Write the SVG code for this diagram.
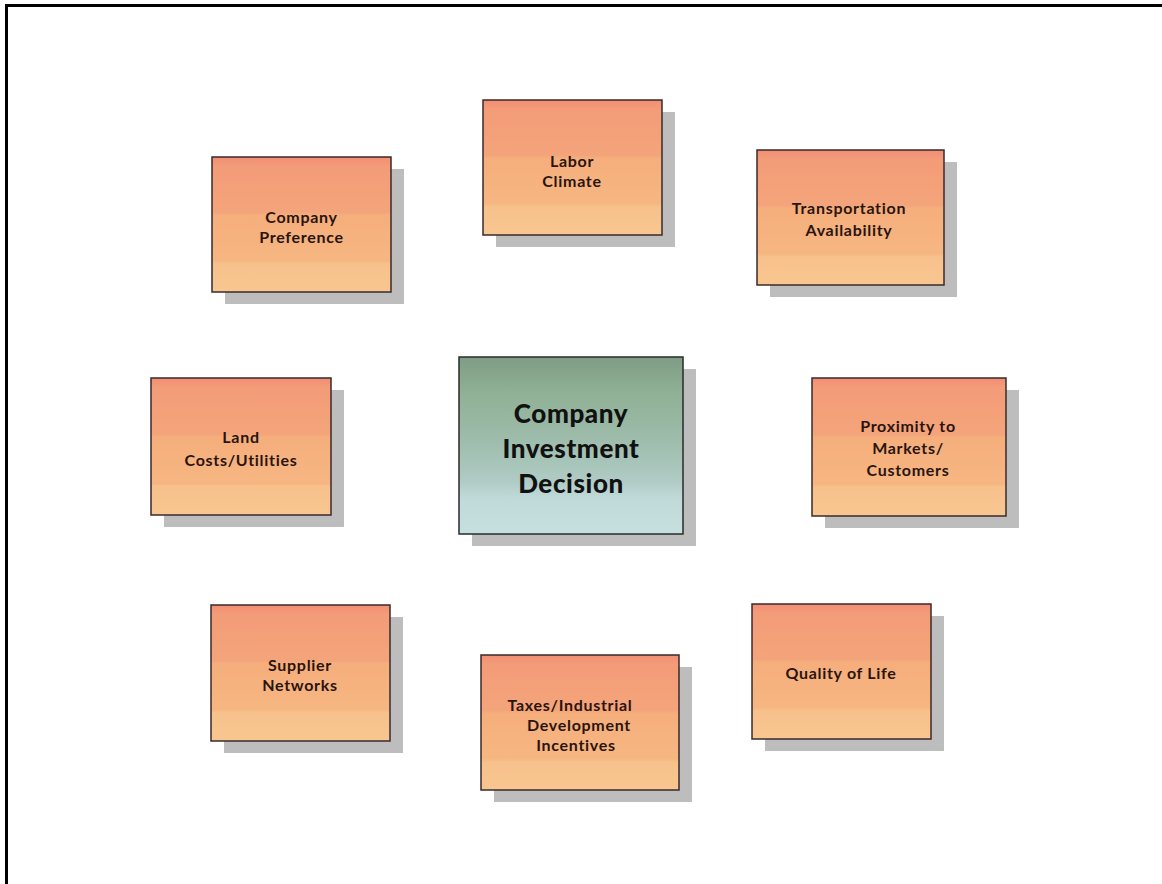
<svg xmlns="http://www.w3.org/2000/svg" width="1162" height="884" viewBox="0 0 1162 884">
<defs>
<linearGradient id="og" x1="0" y1="0" x2="0" y2="1">
<stop offset="0" stop-color="#F28E76"/>
<stop offset="0.07" stop-color="#F39C78"/>
<stop offset="0.41" stop-color="#F4A47A"/>
<stop offset="0.43" stop-color="#F5AE7C"/>
<stop offset="0.77" stop-color="#F6B682"/>
<stop offset="0.79" stop-color="#F7C18C"/>
<stop offset="1" stop-color="#F8C690"/>
</linearGradient>
<linearGradient id="gg" x1="0" y1="0" x2="0" y2="1">
<stop offset="0" stop-color="#7F9C84"/>
<stop offset="0.2" stop-color="#8FB194"/>
<stop offset="0.45" stop-color="#9DBBAA"/>
<stop offset="0.7" stop-color="#AFCBC4"/>
<stop offset="0.8" stop-color="#C0DADA"/>
<stop offset="1" stop-color="#C6DFDF"/>
</linearGradient>
</defs>
<style>
.sh{fill:#BDBDBD}
.bx{fill:url(#og);stroke:#3a2a2a;stroke-width:1.5}
.cb{fill:url(#gg);stroke:#2a2a2a;stroke-width:1.5}
.t{font-family:Lato,"Open Sans","DejaVu Sans",sans-serif;font-weight:bold;font-size:16px;letter-spacing:0.7px;fill:#2a1410;text-anchor:middle}
.ct{font-family:Lato,"Open Sans","DejaVu Sans",sans-serif;font-weight:900;font-size:26px;letter-spacing:0.6px;fill:#111;text-anchor:middle}
</style>
<rect width="1162" height="884" fill="#fff"/>
<path d="M6.5 884 V5.5 H1162" fill="none" stroke="#000" stroke-width="3"/>
<g id="connectors"/>
<g id="company-preference">
<rect class="sh" x="225" y="169" width="179" height="135"/>
<rect class="bx" x="212" y="157" width="179" height="135"/>
<text class="t" x="301.5" y="223">Company</text>
<text class="t" x="301.5" y="243">Preference</text>
</g>
<g id="labor-climate">
<rect class="sh" x="496" y="112" width="179" height="135"/>
<rect class="bx" x="483" y="100" width="179" height="135"/>
<text class="t" x="572" y="167">Labor</text>
<text class="t" x="572" y="187">Climate</text>
</g>
<g id="transportation">
<rect class="sh" x="770" y="162" width="187" height="135"/>
<rect class="bx" x="757" y="150" width="187" height="135"/>
<text class="t" x="849" y="214">Transportation</text>
<text class="t" x="849" y="236">Availability</text>
</g>
<g id="land-costs">
<rect class="sh" x="164" y="390" width="180" height="137"/>
<rect class="bx" x="151" y="378" width="180" height="137"/>
<text class="t" x="241" y="443">Land</text>
<text class="t" x="241" y="466">Costs/Utilities</text>
</g>
<g id="center">
<rect class="sh" x="472" y="369" width="224" height="177"/>
<rect class="cb" x="459" y="357" width="224" height="177"/>
<text class="ct" x="571" y="423">Company</text>
<text class="ct" x="571" y="458">Investment</text>
<text class="ct" x="571" y="493">Decision</text>
</g>
<g id="proximity">
<rect class="sh" x="825" y="390" width="194" height="138"/>
<rect class="bx" x="812" y="378" width="194" height="138"/>
<text class="t" x="908" y="432">Proximity to</text>
<text class="t" x="908" y="454">Markets/</text>
<text class="t" x="908" y="476">Customers</text>
</g>
<g id="supplier-networks">
<rect class="sh" x="224" y="617" width="179" height="136"/>
<rect class="bx" x="211" y="605" width="179" height="136"/>
<text class="t" x="300" y="671">Supplier</text>
<text class="t" x="300" y="691">Networks</text>
</g>
<g id="taxes">
<rect class="sh" x="494" y="667" width="198" height="135"/>
<rect class="bx" x="481" y="655" width="198" height="135"/>
<text class="t" x="570" y="711">Taxes/Industrial</text>
<text class="t" x="579" y="731">Development</text>
<text class="t" x="576" y="751">Incentives</text>
</g>
<g id="quality-of-life">
<rect class="sh" x="765" y="616" width="179" height="135"/>
<rect class="bx" x="752" y="604" width="179" height="135"/>
<text class="t" x="841" y="679">Quality of Life</text>
</g>
</svg>
